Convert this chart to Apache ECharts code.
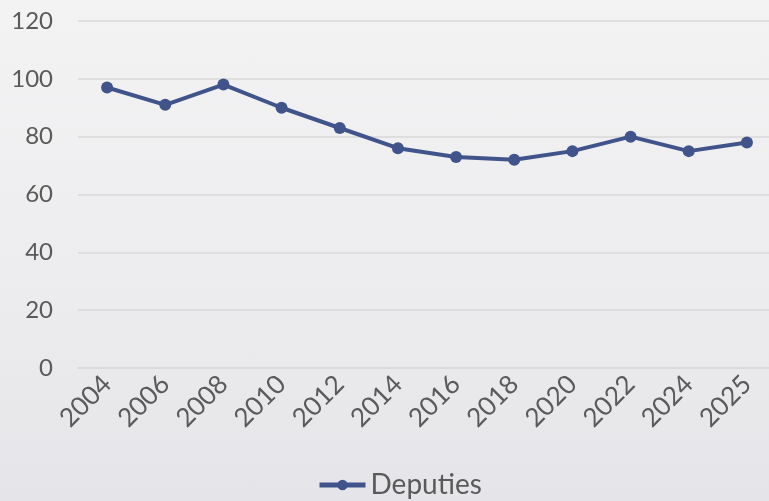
<!DOCTYPE html>
<html>
<head>
<meta charset="utf-8">
<script src="https://cdn.jsdelivr.net/npm/echarts@6/dist/echarts.min.js"></script>
<style>
  html, body { margin: 0; padding: 0; }
  #chart {
    width: 769px;
    height: 501px;
    background: linear-gradient(180deg, #f3f3f4 0%, #ececee 60%, #e5e5e9 100%);
  }
</style>
</head>
<body>
<div id="chart"></div>
<script>
const years = ['2004', '2006', '2008', '2010', '2012', '2014', '2016', '2018', '2020', '2022', '2024', '2025']
const deputies = [97, 91, 98, 90, 83, 76, 73, 72, 75, 80, 75, 78]

const font = 'Lato, "Open Sans", sans-serif'
const lineColor = '#40548b'

const chart = echarts.init(document.getElementById('chart'))

chart.setOption({
  animation: false,
  grid: { left: 78, right: -7, top: 21, bottom: 133, outerBoundsMode: 'none' },
  legend: {
    left: 317,
    bottom: 2,
    padding: 0,
    itemWidth: 46,
    itemHeight: 13,
    itemGap: 5,
    lineStyle: { width: 5 },
    textStyle: { color: '#5a5a5a', fontSize: 28, fontFamily: font }
  },
  xAxis: {
    type: 'category',
    data: years,
    axisLine: { lineStyle: { color: '#d9d9d9', width: 1.5 } },
    axisTick: { show: false },
    axisLabel: {
      rotate: 45,
      margin: 12,
      color: '#5a5a5a',
      fontSize: 26,
      fontFamily: font
    }
  },
  yAxis: {
    type: 'value',
    min: 0,
    max: 120,
    interval: 20,
    axisLine: { show: false },
    axisTick: { show: false },
    splitLine: { lineStyle: { color: '#d9d9d9', width: 1.5 } },
    axisLabel: {
      margin: 25,
      color: '#5a5a5a',
      fontSize: 24,
      fontFamily: font
    }
  },
  series: [{
    name: 'Deputies',
    type: 'line',
    data: deputies,
    symbol: 'circle',
    symbolSize: 12,
    lineStyle: { color: lineColor, width: 4 },
    itemStyle: { color: lineColor }
  }]
})
</script>
</body>
</html>
